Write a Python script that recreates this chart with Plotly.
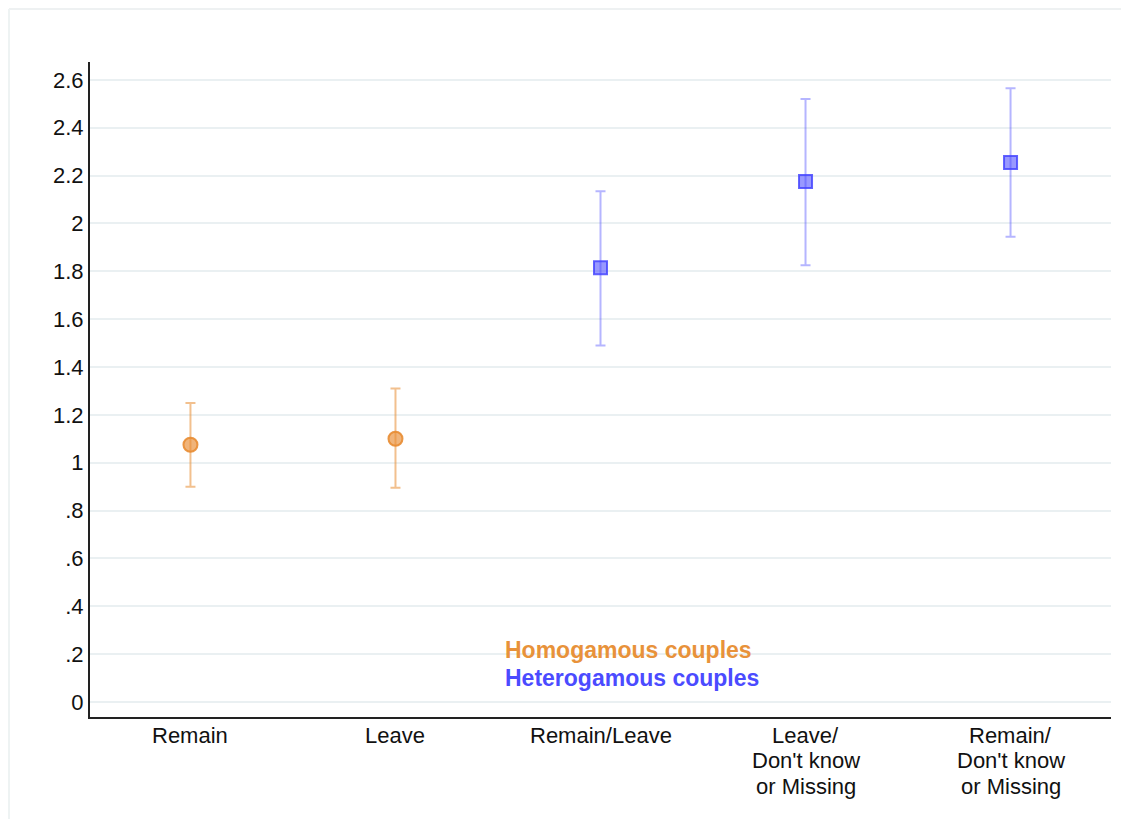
import plotly.graph_objects as go

categories = ["Remain", "Leave", "Remain/Leave", "Leave/<br>Don't know<br>or Missing", "Remain/<br>Don't know<br>or Missing"]
cat_pos = [1, 2, 3, 4, 5]
homo_x = [1, 2]
homo_est = [1.075, 1.10]
homo_lo = [0.90, 0.895]
homo_hi = [1.25, 1.31]
hetero_x = [3, 4, 5]
hetero_est = [1.815, 2.175, 2.255]
hetero_lo = [1.49, 1.825, 1.945]
hetero_hi = [2.135, 2.52, 2.565]
ytick_vals = [0, 0.2, 0.4, 0.6, 0.8, 1, 1.2, 1.4, 1.6, 1.8, 2, 2.2, 2.4, 2.6]
ytick_text = ["0", ".2", ".4", ".6", ".8", "1", "1.2", "1.4", "1.6", "1.8", "2", "2.2", "2.4", "2.6"]

FONT = "Liberation Sans, Arial, Helvetica"
orange = "rgba(232,140,50,0.65)"
orange_line = "rgba(232,140,50,0.9)"
blue = "rgba(70,70,255,0.55)"
blue_line = "rgba(70,70,255,0.85)"

fig = go.Figure()
fig.add_trace(go.Scatter(
    x=homo_x, y=homo_est, mode="markers",
    marker=dict(symbol="circle", size=14, color=orange, line=dict(color=orange_line, width=2)),
    error_y=dict(type="data", symmetric=False,
                 array=[h - e for h, e in zip(homo_hi, homo_est)],
                 arrayminus=[e - l for l, e in zip(homo_lo, homo_est)],
                 color="rgba(232,140,50,0.55)", thickness=2, width=5),
    showlegend=False))
fig.add_trace(go.Scatter(
    x=hetero_x, y=hetero_est, mode="markers",
    marker=dict(symbol="square", size=13, color=blue, line=dict(color=blue_line, width=2)),
    error_y=dict(type="data", symmetric=False,
                 array=[h - e for h, e in zip(hetero_hi, hetero_est)],
                 arrayminus=[e - l for l, e in zip(hetero_lo, hetero_est)],
                 color="rgba(70,70,255,0.4)", thickness=2, width=5),
    showlegend=False))

fig.add_annotation(x=2.522, y=0.217, xref="x", yref="y", text="<b>Homogamous couples</b>",
                   showarrow=False, xanchor="left", yanchor="middle",
                   font=dict(color="#E8923A", size=23, family=FONT))
fig.add_annotation(x=2.522, y=0.100, xref="x", yref="y", text="<b>Heterogamous couples</b>",
                   showarrow=False, xanchor="left", yanchor="middle",
                   font=dict(color="#4B4BFF", size=23, family=FONT))

# category labels, one annotation per line
for pos, label in zip(cat_pos, categories):
    for i, line in enumerate(label.split("<br>")):
        fig.add_annotation(x=pos, y=0, xref="x", yref="paper", text=line,
                           showarrow=False, xanchor="center", yanchor="middle",
                           yshift=-(18 + i * 25.5), borderpad=0,
                           font=dict(color="#111", size=22, family=FONT))

# faint outer frame
fig.add_shape(type="line", xref="paper", yref="paper", x0=-0.0793, x1=1.03, y0=1.0809, y1=1.0809,
              line=dict(color="#eef1f2", width=2))
fig.add_shape(type="line", xref="paper", yref="paper", x0=-0.0793, x1=-0.0793, y0=-0.16, y1=1.0809,
              line=dict(color="#eef3f3", width=2))

fig.update_layout(
    width=1113, height=811,
    margin=dict(l=82, r=10, t=54, b=102),
    paper_bgcolor="white", plot_bgcolor="white",
    font=dict(family=FONT, size=22, color="#111"),
    xaxis=dict(range=[0.51, 5.49], tickvals=cat_pos, showticklabels=False,
               showgrid=False, showline=True, linecolor="#222", linewidth=2,
               ticks="", zeroline=False),
    yaxis=dict(range=[-0.063, 2.675], tickvals=ytick_vals, ticktext=ytick_text,
               showgrid=True, gridcolor="#eaf0f2", gridwidth=2,
               showline=True, linecolor="#222", linewidth=2,
               ticks="", zeroline=False, tickfont=dict(size=22)),
)

fig.write_html("out.html")
